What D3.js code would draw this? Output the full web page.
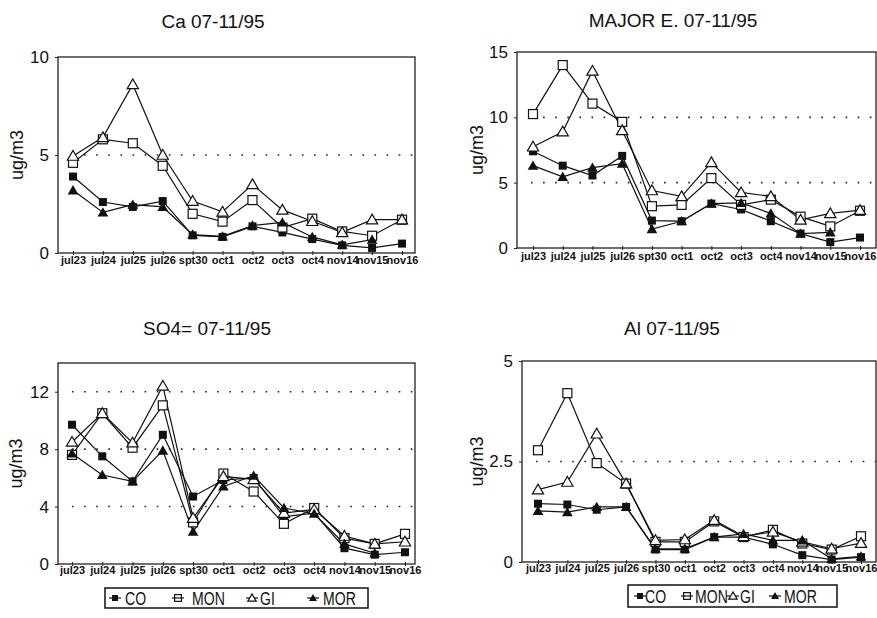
<!DOCTYPE html>
<html>
<head>
<meta charset="utf-8">
<script src="https://cdn.jsdelivr.net/npm/d3@7"></script>
<style>
  body { margin: 0; background: #fff; }
  svg text { font-family: Arial, "Liberation Sans", sans-serif; fill: #111; }
  .tick-x { font-family: "Liberation Sans Narrow", "Arial Narrow", Arial, sans-serif; font-weight: bold; font-size: 11px; }
</style>
</head>
<body>
<div class="chart"></div>
<script>
// categories (sampling days)
var days = ["jul23", "jul24", "jul25", "jul26", "spt30", "oct1", "oct2", "oct3", "oct4", "nov14", "nov15", "nov16"];
var stations = ["CO", "MON", "GI", "MOR"];

// Ca
var caCO  = [3.9, 2.6, 2.35, 2.65, 0.9, 0.82, 1.36, 1.05, 0.71, 0.39, 0.26, 0.48];
var caMON = [4.6, 5.8, 5.6, 4.45, 2.0, 1.6, 2.7, 1.3, 1.75, 1.1, 0.88, 1.7];
var caGI  = [4.95, 5.9, 8.6, 5.0, 2.65, 2.1, 3.5, 2.2, 1.62, 1.05, 1.7, 1.7];
var caMOR = [3.2, 2.07, 2.47, 2.35, 0.94, 0.85, 1.4, 1.56, 0.82, 0.42, 0.68, null];

// major elements
var meCO  = [7.4, 6.3, 5.55, 7.05, 2.1, 2.05, 3.4, 2.95, 2.05, 1.1, 0.45, 0.8];
var meMON = [10.25, 14.0, 11.05, 9.65, 3.2, 3.3, 5.35, 3.3, 3.7, 2.4, 1.65, 2.85];
var meGI  = [7.75, 8.9, 13.55, 9.0, 4.4, 3.95, 6.55, 4.25, 3.95, 2.15, 2.65, 2.9];
var meMOR = [6.3, 5.45, 6.15, 6.45, 1.45, 2.05, 3.4, 3.45, 2.65, 1.1, 1.2, null];

// SO4=
var soCO  = [9.7, 7.5, 5.75, 9.0, 4.7, 5.85, 6.0, 3.3, 3.55, 1.1, 0.65, 0.82];
var soMON = [7.6, 10.5, 8.1, 11.05, 2.9, 6.3, 5.05, 2.8, 3.9, 1.8, 1.4, 2.1];
var soGI  = [8.5, 10.5, 8.45, 12.4, 3.2, 6.1, 5.9, 3.55, 3.8, 1.95, 1.4, 1.55];
var soMOR = [7.7, 6.2, 5.75, 7.9, 2.25, 5.4, 6.15, 3.9, 3.5, 1.4, 0.75, null];

// Al
var alCO  = [1.45, 1.43, 1.3, 1.37, 0.31, 0.31, 0.62, 0.62, 0.44, 0.17, 0.06, 0.12];
var alMON = [2.78, 4.2, 2.46, 1.95, 0.5, 0.5, 1.01, 0.62, 0.8, 0.46, 0.31, 0.64];
var alGI  = [1.8, 1.99, 3.19, 1.95, 0.54, 0.56, 1.04, 0.64, 0.75, 0.5, 0.33, 0.47];
var alMOR = [1.27, 1.24, 1.37, 1.37, 0.33, 0.33, 0.62, 0.7, 0.54, 0.54, 0.08, 0.14];

var svg = d3.select(".chart").append("svg")
  .attr("width", 877)
  .attr("height", 618);

var panels = [
  { title: "Ca 07-11/95", series: [caCO, caMON, caGI, caMOR], max: 10, ticks: [0, 5, 10], grid: [5],
    box: [58, 57, 415, 253], xr: [73, 402], titleX: 213, titleY: 28, labX: 23, tickDy: 13 },
  { title: "MAJOR E. 07-11/95", series: [meCO, meMON, meGI, meMOR], max: 15, ticks: [0, 5, 10, 15], grid: [5, 10],
    box: [517, 52, 876, 248], xr: [533, 860], titleX: 673, titleY: 27, labX: 483, tickDy: 14 },
  { title: "SO4= 07-11/95", series: [soCO, soMON, soGI, soMOR], max: 14, ticks: [0, 4, 8, 12], grid: [4, 8, 12],
    box: [58, 363, 415, 564], xr: [72, 405], titleX: 207, titleY: 335, labX: 22, tickDy: 12 },
  { title: "Al 07-11/95", series: [alCO, alMON, alGI, alMOR], max: 5, ticks: [0, 2.5, 5], grid: [2.5],
    box: [522, 361, 876, 562], xr: [538, 861], titleX: 672, titleY: 335, labX: 483, tickDy: 12 }
];

// marker drawing (k = size factor)
function marker(g, kind, x, y, k) {
  k = k || 1;
  if (kind === "CO") {
    g.append("rect").attr("x", x - 4 * k).attr("y", y - 4 * k).attr("width", 8 * k).attr("height", 8 * k).attr("fill", "#111");
  } else if (kind === "MON") {
    g.append("rect").attr("x", x - 4.5 * k).attr("y", y - 4.5 * k).attr("width", 9 * k).attr("height", 9 * k)
      .attr("fill", "#fff").attr("stroke", "#111").attr("stroke-width", 1.2);
  } else if (kind === "GI") {
    g.append("path").attr("d", d3.symbol().type(d3.symbolTriangle).size(55 * k * k)).attr("transform", `translate(${x},${y + k})`)
      .attr("fill", "#fff").attr("stroke", "#111").attr("stroke-width", 1.2);
  } else {
    g.append("path").attr("d", d3.symbol().type(d3.symbolTriangle).size(50 * k * k)).attr("transform", `translate(${x},${y + k})`)
      .attr("fill", "#111");
  }
}

panels.forEach(function(p) {
  var g = svg.append("g");
  var x = d3.scalePoint().domain(days).range(p.xr);
  var y = d3.scaleLinear().domain([0, p.max]).range([p.box[3], p.box[1]]);

  // dotted grid
  p.grid.forEach(function(v) {
    g.append("line").attr("x1", p.box[0] + 14).attr("x2", p.box[2])
      .attr("y1", y(v)).attr("y2", y(v))
      .attr("stroke", "#222").attr("stroke-width", 1.6).attr("stroke-dasharray", "1.6,10.5");
  });

  // frame
  g.append("rect").attr("x", p.box[0]).attr("y", p.box[1])
    .attr("width", p.box[2] - p.box[0]).attr("height", p.box[3] - p.box[1])
    .attr("fill", "none").attr("stroke", "#222").attr("stroke-width", 1.3);

  // x axis
  var xAxis = d3.axisBottom(x).tickSizeInner(4).tickSizeOuter(0).tickPadding(3);
  var xa = g.append("g").attr("transform", `translate(0,${p.box[3] - 2})`).call(xAxis);
  xa.select(".domain").remove();
  xa.selectAll("line").attr("stroke", "#222");
  xa.selectAll("text").attr("class", "tick-x").attr("y", p.tickDy).attr("dy", 0).attr("fill", "#111");

  // y axis
  var yAxis = d3.axisLeft(y).tickValues(p.ticks).tickSize(3).tickPadding(6).tickFormat(d3.format("~g"));
  var ya = g.append("g").attr("transform", `translate(${p.box[0]},0)`).call(yAxis);
  ya.select(".domain").remove();
  ya.selectAll("line").attr("stroke", "#222");
  ya.selectAll("text").attr("font-size", 17).attr("font-family", "Arial, 'Liberation Sans', sans-serif").attr("fill", "#111");

  // y label
  g.append("text")
    .attr("transform", `translate(${p.labX},${(p.box[1] + p.box[3]) / 2}) rotate(-90)`)
    .attr("text-anchor", "middle").attr("font-size", 18)
    .text("ug/m3");

  // title
  g.append("text").attr("x", p.titleX).attr("y", p.titleY)
    .attr("text-anchor", "middle").attr("font-size", 19)
    .text(p.title);

  // lines and markers
  var line = d3.line()
    .defined(function(d) { return d != null; })
    .x(function(d, i) { return x(days[i]); })
    .y(function(d) { return y(d); });

  p.series.forEach(function(vals) {
    g.append("path").datum(vals).attr("d", line)
      .attr("fill", "none").attr("stroke", "#111").attr("stroke-width", 1.2);
  });
  p.series.forEach(function(vals, si) {
    vals.forEach(function(v, i) {
      if (v != null) marker(g, stations[si], x(days[i]), y(v));
    });
  });
});

// legends (text narrowed like the scanned original)
var legends = [
  { box: [105, 588, 368, 608], mk: [115, 178, 252, 313], tx: [125, 192, 260, 323] },
  { box: [628, 585, 837, 607], mk: [640, 687, 733, 775], tx: [645, 695, 740, 784] }
];
legends.forEach(function(L) {
  var g = svg.append("g");
  g.append("rect").attr("x", L.box[0]).attr("y", L.box[1])
    .attr("width", L.box[2] - L.box[0]).attr("height", L.box[3] - L.box[1])
    .attr("fill", "#fff").attr("stroke", "#111").attr("stroke-width", 1.5);
  var cy = (L.box[1] + L.box[3]) / 2;
  stations.forEach(function(s, i) {
    var mx = L.mk[i];
    g.append("line").attr("x1", mx - 6).attr("x2", mx + 6).attr("y1", cy).attr("y2", cy)
      .attr("stroke", "#111").attr("stroke-width", 1.2);
    marker(g, s, mx, cy, 0.75);
    if (s === "MON") {
      g.append("line").attr("x1", mx - 4).attr("x2", mx + 4).attr("y1", cy).attr("y2", cy)
        .attr("stroke", "#111").attr("stroke-width", 1.2);
    }
    g.append("text")
      .attr("transform", `translate(${L.tx[i]},${cy + 7}) scale(0.74,1)`)
      .attr("font-size", 19)
      .text(s);
  });
});
</script>
</body>
</html>
